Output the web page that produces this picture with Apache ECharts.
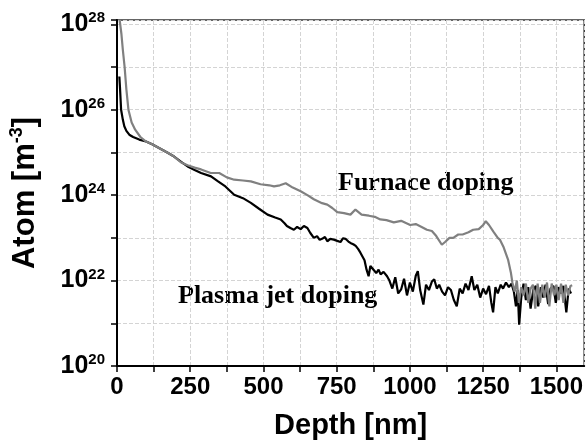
<!DOCTYPE html>
<html>
<head>
<meta charset="utf-8">
<script src="https://cdn.jsdelivr.net/npm/echarts@6/dist/echarts.min.js"></script>
<style>
  html, body { margin: 0; padding: 0; background: #fff; }
  #chart { width: 586px; height: 445px; }
</style>
</head>
<body>
<div id="chart"></div>
<script>
// depth [nm] and atom concentration [m^-3]
var plasmaDepth = [8, 10, 14, 20, 25, 32, 42, 55, 76, 99, 120, 145, 173, 195, 219, 241, 265, 287, 321, 345, 370, 400, 430, 457, 485, 514, 540, 559, 572, 580, 592, 604, 615, 627, 638, 650, 660, 672, 683, 692, 700, 710, 718, 728, 740, 752, 763, 772, 780, 790, 797, 808, 815, 823, 831, 845, 852, 859, 865, 871, 885, 893, 900, 910, 922,
  930, 940, 950, 960, 970, 980, 990, 1000, 1010, 1020, 1027, 1035, 1046, 1055, 1065, 1075, 1083, 1092, 1100, 1110, 1120, 1130, 1140, 1150, 1160, 1170, 1180, 1190, 1200, 1211, 1220, 1230, 1240, 1250, 1260, 1270, 1278, 1284, 1292, 1300, 1310, 1318, 1328, 1338, 1347, 1355, 1362, 1368, 1373, 1380, 1388, 1396, 1404, 1412, 1421, 1430, 1438, 1447, 1455, 1463, 1472, 1480, 1490, 1498, 1507, 1515, 1524, 1534, 1542, 1550];
var plasmaConc = [6.0e26, 3.5e26, 1.0e26, 5.8e25, 4.1e25, 3.2e25, 2.6e25, 2.3e25, 2.0e25, 1.8e25, 1.55e25, 1.25e25, 9.8e24, 8.0e24, 6.0e24, 4.7e24, 3.9e24, 3.3e24, 2.75e24, 2.1e24, 1.6e24, 1.02e24, 8.5e23, 6.6e23, 4.8e23, 3.5e23, 3.0e23, 2.7e23, 2.2e23, 1.9e23, 1.7e23, 1.55e23, 1.8e23, 1.6e23, 1.9e23, 1.7e23, 1.3e23, 1.0e23, 1.1e23, 9.0e22, 9.5e22, 1.05e23, 8.3e22, 9.5e22, 9.1e22, 8.5e22, 8.0e22, 9.8e22, 9.5e22, 8.2e22, 7.6e22, 7.0e22, 6.5e22, 5.5e22, 4.5e22, 3.0e22, 1.8e22, 1.26e22, 2.2e22, 2.0e22, 1.5e22, 1.8e22, 1.4e22, 1.6e22, 1.26e22,
  1.0e22, 6.5e21, 1.2e22, 5.0e21, 6.2e21, 1.1e22, 4.5e21, 9.0e21, 5.5e21, 1.3e22, 1.66e22, 6.0e21, 2.75e21, 8.0e21, 6.0e21, 9.5e21, 1.07e22, 6.5e21, 8.0e21, 5.5e21, 4.5e21, 7.0e21, 6.0e21, 3.5e21, 2.5e21, 6.5e21, 5.0e21, 8.5e21, 6.0e21, 1.26e22, 6.0e21, 8.0e21, 4.0e21, 6.5e21, 4.8e21, 7.5e21, 3.0e21, 1.8e21, 7.0e21, 5.0e21, 8.0e21, 6.5e21, 9.0e21, 7.0e21, 8.5e21, 5.5e21, 2.5e21, 6.0e21, 9.3e20, 4.0e21, 8.5e21, 3.5e21, 7.0e21, 2.2e21, 6.0e21, 7.5e21, 2.5e21, 7.0e21, 4.0e21, 8.0e21, 2.8e21, 6.5e21, 7.5e21, 3.0e21, 7.0e21, 5.0e21, 7.5e21, 1.8e21, 6.5e21, 5.0e21];

var furnaceDepth = [9, 15, 20, 26, 32, 39, 50, 62, 80, 99, 120, 145, 173, 195, 219, 241, 265, 287, 320, 349, 375, 400, 430, 457, 490, 520, 536, 556, 576, 600, 627, 650, 672, 700, 718, 735, 752, 775, 797, 814, 835, 860, 880, 899, 920, 945, 970, 1001, 1020, 1040, 1058, 1075, 1090, 1109, 1120, 1135, 1148, 1165, 1180, 1200, 1216, 1235, 1250, 1259, 1270, 1285, 1300, 1307, 1320, 1335, 1345, 1350,
  1358, 1365, 1372, 1380, 1388, 1396, 1404, 1412, 1420, 1428, 1436, 1444, 1452, 1460, 1468, 1476, 1484, 1492, 1500, 1508, 1516, 1524, 1532, 1540, 1548, 1554];
var furnaceConc = [1.26e28, 6.0e27, 2.5e27, 1.0e27, 3.0e26, 1.0e26, 5.0e25, 3.4e25, 2.3e25, 1.8e25, 1.55e25, 1.25e25, 9.8e24, 8.0e24, 5.8e24, 5.0e24, 4.4e24, 4.0e24, 3.3e24, 3.3e24, 2.6e24, 2.3e24, 2.2e24, 2.1e24, 1.8e24, 1.7e24, 1.6e24, 1.7e24, 1.9e24, 1.5e24, 1.23e24, 1.0e24, 8.0e23, 6.5e23, 6.0e23, 5.0e23, 4.0e23, 3.8e23, 3.5e23, 4.6e23, 3.5e23, 3.3e23, 3.1e23, 2.7e23, 2.6e23, 2.3e23, 2.5e23, 2.0e23, 2.1e23, 1.8e23, 1.55e23, 1.45e23, 1.1e23, 6.9e22, 8.0e22, 1.0e23, 1.0e23, 1.2e23, 1.2e23, 1.35e23, 1.55e23, 1.6e23, 2.0e23, 2.45e23, 2.0e23, 1.4e23, 1.0e23, 9.1e22, 6.0e22, 3.1e22, 1.5e22, 8.9e21,
  5.5e21, 1.0e22, 3.0e21, 7.0e21, 4.5e21, 8.5e21, 3.0e21, 6.5e21, 8.0e21, 2.2e21, 8.5e21, 3.0e21, 8.0e21, 4.0e21, 9.0e21, 2.5e21, 8.5e21, 4.5e21, 8.0e21, 3.5e21, 8.5e21, 3.0e21, 8.0e21, 4.5e21, 7.5e21, 7.8e21];

var xTicks = [0, 250, 500, 750, 1000, 1250, 1500];
var yLabelExps = [20, 22, 24, 26, 28];

function pairs(xs, ys) {
    return xs.map(function (x, i) { return [x, ys[i]]; });
}

var chart = echarts.init(document.getElementById('chart'));

var option = {
    animation: false,
    grid: {
        left: 116,
        right: 1,
        top: 20,
        bottom: 78,
        show: true,
        borderColor: '#333',
        borderWidth: 1.5
    },
    xAxis: {
        type: 'value',
        min: 0,
        max: 1595,
        interval: 125,
        name: 'Depth [nm]',
        nameLocation: 'middle',
        nameGap: 45,
        nameTextStyle: {
            fontFamily: 'Liberation Sans, Arial',
            fontWeight: 'bold',
            fontSize: 29,
            color: '#000'
        },
        axisLine: { lineStyle: { color: '#000', width: 2 } },
        axisTick: { length: 6, lineStyle: { color: '#000', width: 1.5 } },
        axisLabel: {
            margin: 9,
            fontFamily: 'Liberation Sans, Arial',
            fontWeight: 'bold',
            fontSize: 24,
            color: '#000',
            showMaxLabel: false,
            formatter: function (v) {
                return xTicks.indexOf(v) >= 0 ? String(v) : '';
            }
        },
        splitLine: { show: true, lineStyle: { color: '#d4d4d4', type: 'dashed', width: 1 } }
    },
    yAxis: {
        type: 'log',
        logBase: 10,
        min: 1e20,
        max: 1.26e28,
        interval: 1,
        splitNumber: 8,
        name: '{n|Atom [m}{s|-3}{n|]}',
        nameLocation: 'middle',
        nameRotate: 90,
        nameGap: 75,
        nameTextStyle: {
            rich: {
                n: { fontFamily: 'Liberation Sans, Arial', fontWeight: 'bold', fontSize: 31, color: '#000', lineHeight: 34 },
                s: { fontFamily: 'Liberation Sans, Arial', fontWeight: 'bold', fontSize: 18, color: '#000', verticalAlign: 'top', lineHeight: 34 }
            }
        },
        axisLine: { show: true, lineStyle: { color: '#000', width: 2 } },
        axisTick: { show: true, length: 6, lineStyle: { color: '#000', width: 1.5 } },
        axisLabel: {
            margin: 12,
            showMaxLabel: true,
            formatter: function (v) {
                var e = Math.log10(v);
                var r = Math.round(e);
                if (Math.abs(e - r) > 1e-6 || yLabelExps.indexOf(r) < 0) return '';
                return '{b|10}{s|' + r + '}';
            },
            rich: {
                b: { fontFamily: 'Liberation Sans, Arial', fontWeight: 'bold', fontSize: 25, color: '#000', lineHeight: 27 },
                s: { fontFamily: 'Liberation Sans, Arial', fontWeight: 'bold', fontSize: 15, color: '#000', verticalAlign: 'top', lineHeight: 27 }
            }
        },
        splitLine: { show: true, lineStyle: { color: '#d4d4d4', type: 'dashed', width: 1 } }
    },
    graphic: [
        {
            type: 'text',
            left: 338,
            top: 170,
            style: {
                text: 'Furnace doping',
                font: 'bold 26px "Liberation Serif", "Times New Roman", serif',
                fill: '#000'
            }
        },
        {
            type: 'text',
            left: 178,
            top: 283,
            style: {
                text: 'Plasma jet doping',
                font: 'bold 26px "Liberation Serif", "Times New Roman", serif',
                fill: '#000'
            }
        }
    ],
    series: [
        {
            name: 'Furnace doping',
            type: 'line',
            data: pairs(furnaceDepth, furnaceConc),
            showSymbol: false,
            clip: true,
            lineStyle: { color: '#808080', width: 2.2 },
            z: 3
        },
        {
            name: 'Plasma jet doping',
            type: 'line',
            data: pairs(plasmaDepth, plasmaConc),
            showSymbol: false,
            clip: true,
            lineStyle: { color: '#000', width: 2.2 },
            z: 2
        }
    ]
};

chart.setOption(option);
</script>
</body>
</html>
